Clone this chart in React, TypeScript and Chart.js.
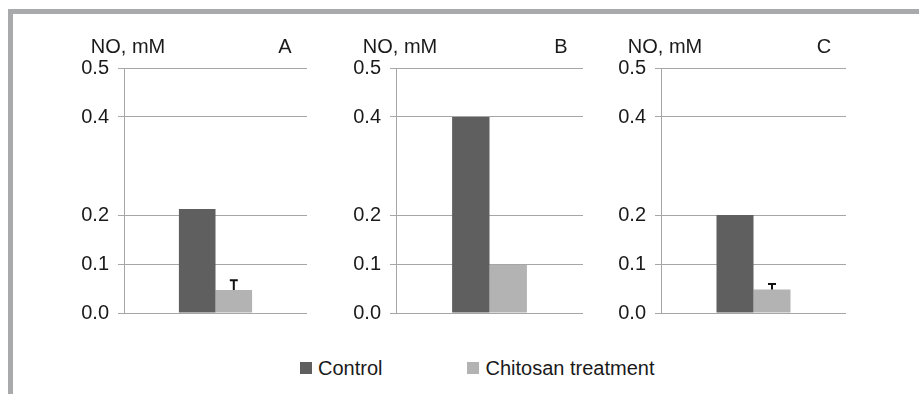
import React, { useEffect, useRef } from "react";
import { Chart, registerables } from "chart.js";

Chart.register(...registerables);

const panels = ["A", "B", "C"];
const seriesNames = ["Control", "Chitosan treatment"];
const controlValues = [0.212, 0.4, 0.2];
const chitosanValues = [0.047, 0.098, 0.048];
const chitosanErrors = [0.02, 0, 0.011];
const yTicks = [0, 0.1, 0.2, 0.4, 0.5];
const yLabel = "NO, mM";

const colors = ["#5f5f5f", "#b3b3b3"];
const FONT = "'Liberation Sans', Arial, sans-serif";

// geometry of the three panels (canvas left, axis x, right x)
const panelGeom = [
  { left: 40, axis: 124, right: 307 },
  { left: 312, axis: 396, right: 583 },
  { left: 577, axis: 661, right: 846 },
];
const CANVAS_TOP = 29;
const PLOT_TOP = 68;
const CANVAS_H = 305;
const PAD_BOTTOM = 9;

const errorBarPlugin = {
  id: "errorBars",
  afterDatasetsDraw(chart: any, _args: any, opts: any) {
    const errs: number[] = opts.errors || [];
    const meta = chart.getDatasetMeta(1);
    const y = chart.scales.y;
    const ctx = chart.ctx;
    ctx.save();
    ctx.strokeStyle = "#111";
    ctx.lineWidth = 2;
    meta.data.forEach((bar: any, i: number) => {
      const e = errs[i];
      if (!e) return;
      const v = chart.data.datasets[1].data[i];
      const top = y.getPixelForValue(v + e);
      const base = y.getPixelForValue(v);
      ctx.beginPath();
      ctx.moveTo(bar.x, base);
      ctx.lineTo(bar.x, top);
      ctx.moveTo(bar.x - 4, top);
      ctx.lineTo(bar.x + 4, top);
      ctx.stroke();
    });
    ctx.restore();
  },
};

const panelTextPlugin = {
  id: "panelText",
  afterDraw(chart: any, _args: any, opts: any) {
    const ctx = chart.ctx;
    const a = chart.chartArea;
    ctx.save();
    ctx.fillStyle = "#1a1a1a";
    ctx.font = `20px ${FONT}`;
    ctx.textBaseline = "middle";
    ctx.textAlign = "center";
    ctx.fillText(yLabel, a.left + 4, a.top - 21);
    ctx.fillText(opts.letter, a.right - 22, a.top - 21);
    ctx.restore();
  },
};

function Panel({ idx }: { idx: number }) {
  const ref = useRef<HTMLCanvasElement>(null);
  const g = panelGeom[idx];
  const width = g.right - g.left + 6;
  useEffect(() => {
    const chart = new Chart(ref.current!, {
      type: "bar",
      data: {
        labels: [panels[idx]],
        datasets: [
          {
            label: seriesNames[0],
            data: [controlValues[idx]],
            backgroundColor: colors[0],
            barPercentage: 1,
            categoryPercentage: 0.4,
          },
          {
            label: seriesNames[1],
            data: [chitosanValues[idx]],
            backgroundColor: colors[1],
            barPercentage: 1,
            categoryPercentage: 0.4,
          },
        ],
      },
      options: {
        animation: false,
        responsive: false,
        maintainAspectRatio: false,
        layout: {
          padding: {
            top: PLOT_TOP - CANVAS_TOP,
            bottom: PAD_BOTTOM,
            right: 6,
            left: 0,
          },
        },
        plugins: {
          legend: { display: false },
          tooltip: { enabled: false },
          title: { display: false },
          errorBars: { errors: [chitosanErrors[idx]] },
          panelText: { letter: panels[idx] },
        } as any,
        scales: {
          x: {
            display: false,
            grid: { display: false },
          },
          y: {
            min: 0,
            max: 0.5,
            afterFit(scale: any) {
              scale.width = g.axis - g.left;
            },
            afterBuildTicks(scale: any) {
              scale.ticks = yTicks.map((v) => ({ value: v }));
            },
            ticks: {
              padding: 9,
              color: "#1a1a1a",
              font: { family: FONT, size: 20 },
              callback: (v: any) => Number(v).toFixed(1),
            },
            grid: {
              color: "#a6a6a6",
              lineWidth: 1,
              tickLength: 6,
              drawTicks: true,
            },
            border: { display: true, color: "#a6a6a6", width: 1 },
          },
        },
      },
      plugins: [errorBarPlugin, panelTextPlugin],
    });
    return () => chart.destroy();
  }, [idx]);
  return (
    <canvas
      ref={ref}
      width={width}
      height={CANVAS_H}
      style={{
        position: "absolute",
        left: g.left,
        top: CANVAS_TOP,
        width,
        height: CANVAS_H,
      }}
    />
  );
}

export default function App() {
  return (
    <div
      style={{
        position: "absolute",
        left: 0,
        top: 0,
        width: 919,
        height: 394,
        background: "#fff",
        overflow: "hidden",
        fontFamily: FONT,
      }}
    >
      <div
        style={{
          position: "absolute",
          left: 8,
          top: 9,
          width: 911,
          height: 5,
          background: "#a9aaac",
        }}
      />
      <div
        style={{
          position: "absolute",
          left: 8,
          top: 9,
          width: 5,
          height: 385,
          background: "#a9aaac",
        }}
      />
      {panels.map((_, i) => (
        <Panel key={i} idx={i} />
      ))}
      <div
        style={{
          position: "absolute",
          top: 357,
          left: 300,
          display: "flex",
          alignItems: "center",
          fontSize: 20,
          color: "#1a1a1a",
          lineHeight: "22px",
        }}
      >
        <span style={{ display: "inline-block", width: 12, height: 12, background: colors[0], marginRight: 6 }} />
        <span style={{ marginRight: 85 }}>{seriesNames[0]}</span>
        <span style={{ display: "inline-block", width: 12, height: 12, background: colors[1], marginRight: 6 }} />
        <span>{seriesNames[1]}</span>
      </div>
    </div>
  );
}
